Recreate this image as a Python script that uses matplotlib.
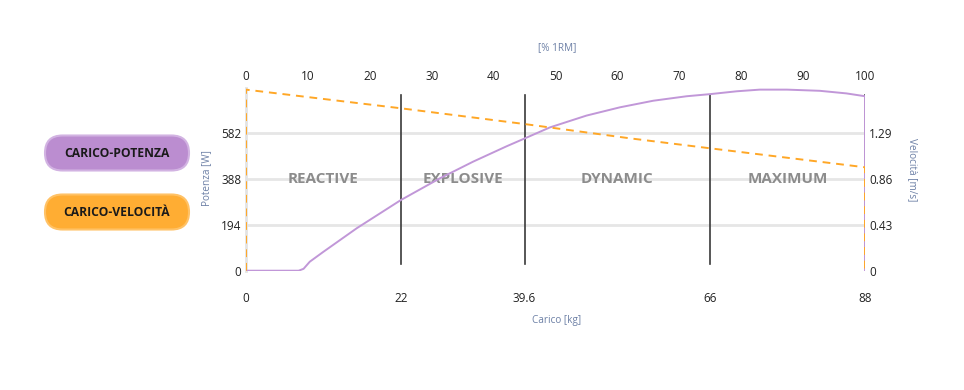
import matplotlib
matplotlib.use("Agg")
import matplotlib.pyplot as plt
from matplotlib.patches import FancyBboxPatch

plt.rcParams['font.family'] = ['Open Sans', 'DejaVu Sans']

# ---- data ----
power_pct = [0, 0, 8.5, 9.3, 10.3, 12.5, 17.9, 25, 31.3, 36.7, 42.1, 45, 49.1, 55, 60.4, 65.8,
             71.2, 75, 79.3, 83, 87.4, 92.7, 97, 100, 100]
power_w = [0, 0, 0, 8, 38, 80, 180, 299, 391, 462, 527, 560, 607, 657, 692, 720,
           739, 748, 760, 767, 767, 762, 751, 739, 0]

vel_pct = [0, 0, 25, 45, 62, 75, 100, 100]
vel_ms = [0, 1.70, 1.525, 1.377, 1.243, 1.149, 0.971, 0]

top_ticks = [0, 10, 20, 30, 40, 50, 60, 70, 80, 90, 100]
kg_ticks = [0, 22, 39.6, 66, 88]
kg_labels = ["0", "22", "39.6", "66", "88"]
max_kg = 88
power_ticks = [0, 194, 388, 582]
vel_ticks = [0, 0.43, 0.86, 1.29]
zone_bounds = [0, 25, 45, 75, 100]
zone_names = ["REACTIVE", "EXPLOSIVE", "DYNAMIC", "MAXIMUM"]
legend_names = ["CARICO-POTENZA", "CARICO-VELOCITÀ"]

# ---- style ----
W, H = 964, 390
fig = plt.figure(figsize=(W / 100, H / 100), dpi=100)
purple = '#c197d8'
orange = '#ffa726'
title_col = '#6d80a6'

left, right, top, bottom = 246, 865, 87.5, 270.7
ax = fig.add_axes([left / W, 1 - bottom / H, (right - left) / W, (bottom - top) / H])
ax2 = ax.twinx()
ax.set_xlim(0, 100)
ax.set_ylim(0, 776)
ax2.set_ylim(0, 1.72)

for a in (ax, ax2):
    for s in a.spines.values():
        s.set_visible(False)
ax.spines['left'].set_visible(True)
ax.spines['left'].set_color('#e3e3e3')
ax.spines['left'].set_linewidth(2)

# grid
for v in power_ticks[1:]:
    ax.axhline(v, color='#e6e6e6', lw=2, zorder=0)

# zone lines
for b in zone_bounds[1:]:
    ax.axvline(b, ymin=0.035, ymax=0.96, color='#3a3a3a', lw=1.2, zorder=2)

# zone labels
for i, name in enumerate(zone_names):
    xc = (zone_bounds[i] + zone_bounds[i + 1]) / 2
    ax.text(xc, 388, name, ha='center', va='center', fontsize=11,
            fontweight='bold', color='#8c8c8c', zorder=1)

# series
ax.plot(power_pct, power_w, color=purple, lw=1.4, zorder=3, solid_joinstyle='round')
ax2.plot(vel_pct, vel_ms, color=orange, lw=1.4, ls=(0, (4, 3)), zorder=3)

# ticks
ax.xaxis.tick_top()
ax.set_xticks(top_ticks)
ax.set_xticklabels([str(t) for t in top_ticks])
ax.tick_params(axis='x', length=0, pad=3.5, labelsize=8.5, labelcolor='#222222')
ax.set_yticks(power_ticks)
ax.set_yticklabels([str(t) for t in power_ticks])
ax.tick_params(axis='y', length=0, pad=3.5, labelsize=8.5, labelcolor='#222222')
ax2.set_yticks(vel_ticks)
ax2.set_yticklabels(["0", "0.43", "0.86", "1.29"])
ax2.tick_params(axis='y', length=0, pad=3, labelsize=8.5, labelcolor='#222222')

sec = ax.secondary_xaxis('bottom', functions=(lambda p: p * max_kg / 100, lambda k: k * 100 / max_kg))
sec.set_xticks(kg_ticks)
sec.set_xticklabels(kg_labels)
sec.tick_params(length=0, pad=15, labelsize=8.5, labelcolor='#222222')
for s in sec.spines.values():
    s.set_visible(False)

# axis titles
fig.text(557 / W, 1 - 48 / H, "[% 1RM]", ha='center', va='center', fontsize=7.2, color=title_col)
fig.text(557 / W, 1 - 320 / H, "Carico [kg]", ha='center', va='center', fontsize=7.2, color=title_col)
fig.text(207 / W, 1 - 178 / H, "Potenza [W]", ha='center', va='center', rotation=90, fontsize=7.2, color=title_col)
fig.text(912 / W, 1 - 170 / H, "Velocità [m/s]", ha='center', va='center', rotation=270, fontsize=7.2, color=title_col)

# legend pills
pills = [(153, '#bb8dd0', '#d2b3e2'), (212, '#ffad33', '#ffc266')]
for (yc, fc, ec), name in zip(pills, legend_names):
    x0, x1, h = 44, 190, 37
    p = FancyBboxPatch((x0 + 1, H - yc - h / 2 + 1), x1 - x0 - 2, h - 2,
                       boxstyle=f"round,pad=0,rounding_size={h/2 - 1}",
                       transform=None, facecolor=fc, edgecolor=ec, lw=1.5)
    fig.patches.append(p)
    fig.text(117 / W, 1 - (yc + 1) / H, name, ha='center', va='center', fontsize=8.7,
             fontweight='bold', color='#1a1a1a')

fig.savefig('out.png', dpi=100, facecolor='white')
